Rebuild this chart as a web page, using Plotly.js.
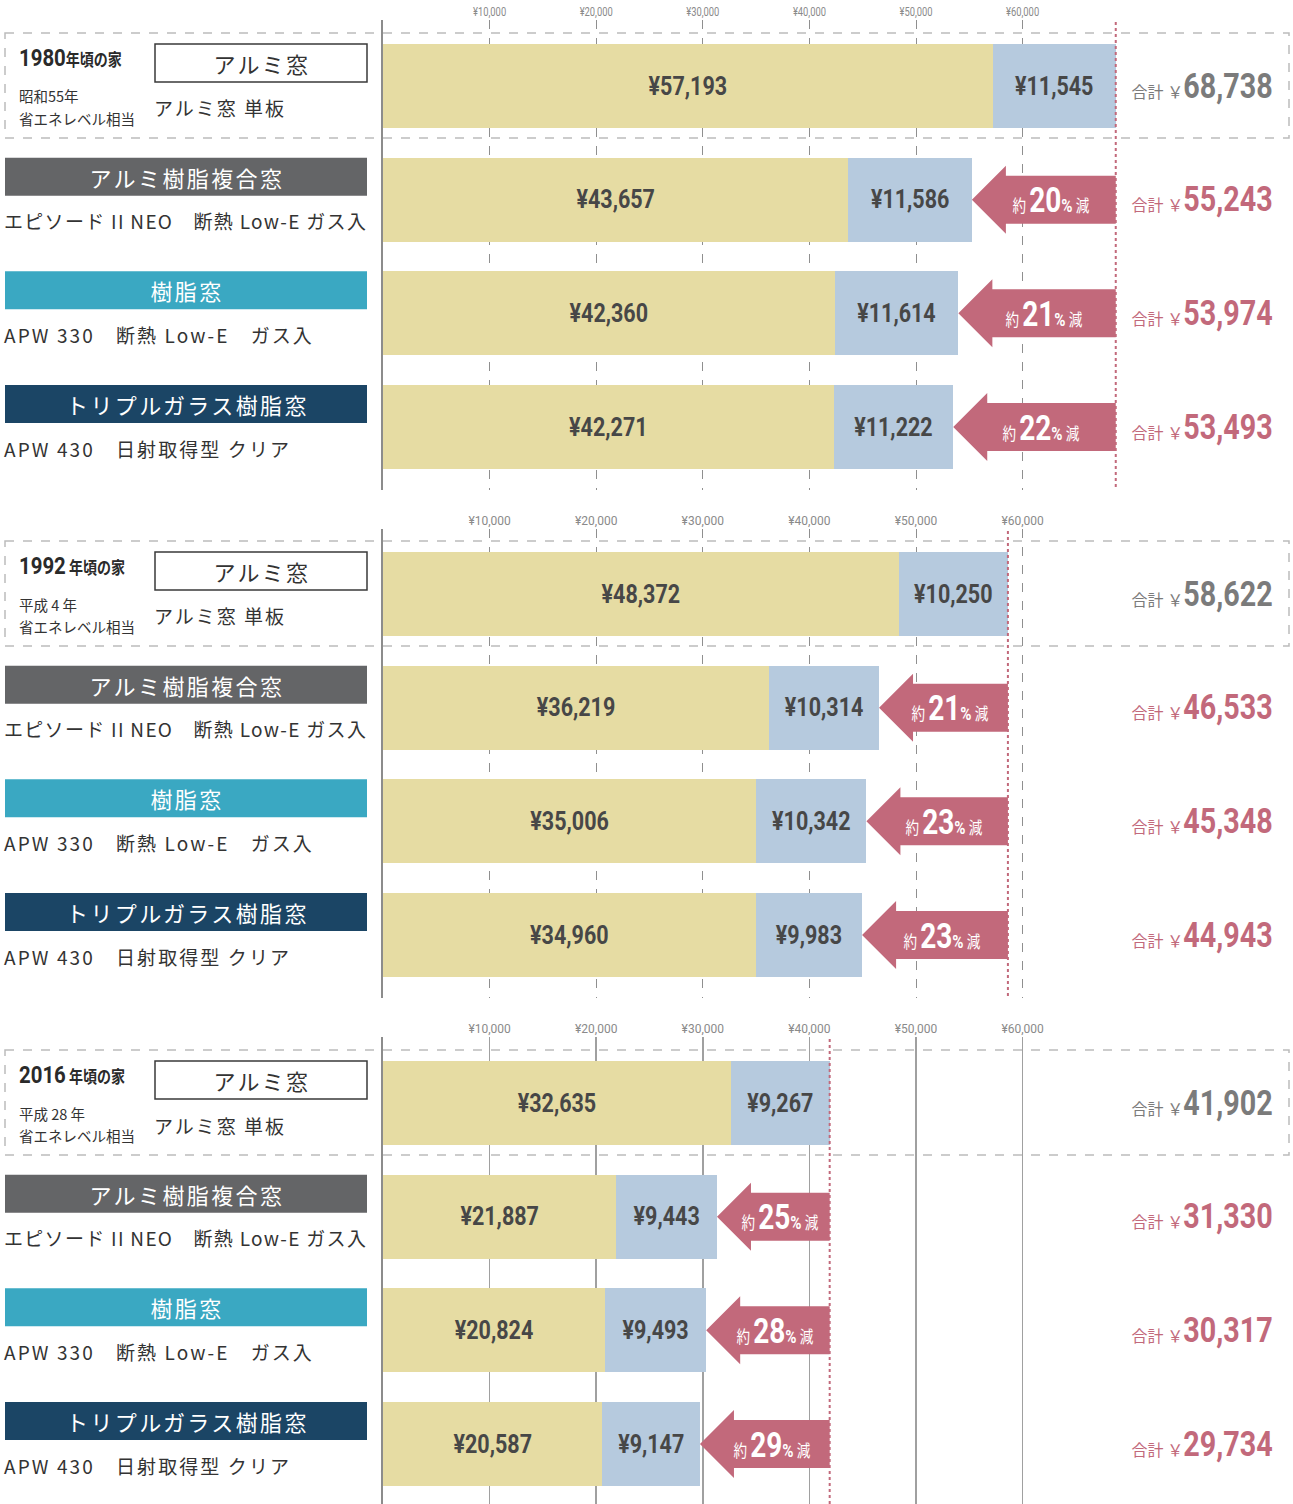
<!DOCTYPE html>
<html><head><meta charset="utf-8">
<script src="https://cdn.plot.ly/plotly-3.0.1.min.js"></script>
<style>html,body{margin:0;padding:0;background:#fff;}#chart{width:1293px;height:1504px;}</style>
</head><body><div id="chart"></div>
<script>
// ---------------- data ----------------
const years = ['1980', '1992', '2016'];
const eras = ['昭和55年', '平成 4 年', '平成 28 年'];
const windowTypes = ['アルミ窓', 'アルミ樹脂複合窓', '樹脂窓', 'トリプルガラス樹脂窓'];
const windowSpecs = ['アルミ窓 単板', 'エピソード II NEO　断熱 Low-E ガス入', 'APW 330　断熱 Low-E　ガス入', 'APW 430　日射取得型 クリア'];
const heating1980 = [57193, 43657, 42360, 42271];
const cooling1980 = [11545, 11586, 11614, 11222];
const heating1992 = [48372, 36219, 35006, 34960];
const cooling1992 = [10250, 10314, 10342, 9983];
const heating2016 = [32635, 21887, 20824, 20587];
const cooling2016 = [9267, 9443, 9493, 9147];
const reduction1980 = [20, 21, 22];
const reduction1992 = [21, 23, 23];
const reduction2016 = [25, 28, 29];
const tickValues = [10000, 20000, 30000, 40000, 50000, 60000];
const tickLabels = ['¥10,000', '¥20,000', '¥30,000', '¥40,000', '¥50,000', '¥60,000'];
const rowIndex = [0, 1, 2, 3];

// ---------------- layout constants ----------------
const W = 1293, H = 1504;
const X0 = 383;
const PXU = 106.6 / 10000;
const ROW = 113.67;
const BAR = 84;
const panelsPx = [
  {top: 20, bottom: 490, c0: 86},
  {top: 529, bottom: 998, c0: 594},
  {top: 1037, bottom: 1504, c0: 1103}
];
const specSpacing = [2.0, 1.3, 2.1, 2.1];
const heating = [heating1980, heating1992, heating2016];
const cooling = [cooling1980, cooling1992, cooling2016];
const reductions = [reduction1980, reduction1992, reduction2016];
const NUM = 'Roboto';
const CJK = 'Noto Sans CJK JP, sans-serif';
const boxColors = ['#ffffff', '#646567', '#3aa8c2', '#1b4565'];
const PINK = '#c2697b';
const BEIGE = '#e6dca3';
const BLUE = '#b6cade';
const TXT = '#333333';

const px = x => x / W;
const py = y => 1 - y / H;
const fmt = v => v.toLocaleString('en-US');

const data = [];
const layout = {
  width: W, height: H, margin: {l: 0, r: 0, t: 0, b: 0},
  paper_bgcolor: '#fff', plot_bgcolor: 'rgba(0,0,0,0)',
  showlegend: false, barmode: 'stack', hovermode: false,
  shapes: [], annotations: []
};
const annFx = [];
function addAnn(a, fx) { layout.annotations.push(a); annFx.push(fx || {}); }
const numSpan = (size, txt) => '<span style="font-family:' + NUM + ';font-size:' + size + 'px;font-weight:bold">' + txt + '</span>';

const xMax = (W - X0) / PXU;

panelsPx.forEach((p, k) => {
  const sfx = k === 0 ? '' : String(k + 1);
  const xa = 'x' + sfx, ya = 'y' + sfx;
  const yr = [(p.bottom - p.c0) / ROW, -(p.c0 - p.top) / ROW];
  layout['xaxis' + sfx] = {
    domain: [X0 / W, 1], range: [0, xMax], anchor: ya, side: 'top',
    tickvals: tickValues, ticktext: tickLabels, ticks: '',
    tickfont: {family: NUM, size: 12, color: '#8a8a8a'},
    showgrid: true, gridcolor: k === 2 ? '#a0a0a0' : '#8f8f8f',
    griddash: k === 2 ? 'solid' : 'dash', gridwidth: k === 2 ? 1.5 : 1,
    zeroline: false, showline: false, fixedrange: true, ticklabelstandoff: 1
  };
  layout['yaxis' + sfx] = {
    domain: [py(p.bottom), py(p.top)], range: yr, anchor: xa,
    showticklabels: false, showgrid: false, zeroline: false,
    showline: true, linecolor: '#8c8c8c', linewidth: 2, fixedrange: true
  };

  const common = {
    type: 'bar', orientation: 'h', y: rowIndex, xaxis: xa, yaxis: ya,
    width: BAR / ROW, hoverinfo: 'skip',
    texttemplate: '¥%{x:,}', textposition: 'inside', insidetextanchor: 'middle',
    constraintext: 'none', textangle: 0,
    textfont: {family: NUM, size: 25, color: '#474747', weight: 'bold'}
  };
  data.push(Object.assign({}, common, {x: heating[k], marker: {color: BEIGE, line: {width: 0}}}));
  data.push(Object.assign({}, common, {x: cooling[k], marker: {color: BLUE, line: {width: 0}}}));

  const totals = heating[k].map((v, i) => v + cooling[k][i]);
  const base = totals[0];

  layout.shapes.push({type: 'rect', xref: 'paper', yref: 'paper',
    x0: px(5), x1: px(1289), y0: py(p.c0 - 53), y1: py(p.c0 + 52),
    line: {color: '#bcbcbc', width: 1.5, dash: 'dash'}, fillcolor: 'rgba(0,0,0,0)', layer: 'above'});

  layout.shapes.push({type: 'line', xref: xa, yref: 'paper', x0: base, x1: base,
    y0: py(p.top + 2), y1: py(p.bottom), line: {color: PINK, width: 2, dash: 'dot'}, layer: 'above'});

  rowIndex.forEach(i => {
    const rp = p.c0 + i * ROW;
    if (i === 0) {
      layout.shapes.push({type: 'rect', xref: 'paper', yref: 'paper',
        x0: px(155), x1: px(367), y0: py(rp - 42), y1: py(rp - 4),
        line: {color: '#3a3a3a', width: 1.5}, fillcolor: '#fff', layer: 'above'});
      addAnn({xref: 'paper', yref: 'paper', x: px(262), y: py(rp - 23), xanchor: 'center', yanchor: 'middle', align: 'center',
        text: windowTypes[i], showarrow: false, font: {family: CJK, size: 22, color: TXT}}, {ls: 2.2});
      addAnn({xref: 'paper', yref: 'paper', x: px(152), y: py(rp + 22), xanchor: 'left', yanchor: 'middle', align: 'left',
        text: windowSpecs[i], showarrow: false, font: {family: CJK, size: 19, color: TXT}}, {ls: specSpacing[i]});
      addAnn({xref: 'paper', yref: 'paper', x: px(17), y: py(rp - 28), xanchor: 'left', yanchor: 'middle', align: 'left',
        text: numSpan(24, years[k]) +
              '<span style="font-size:16.5px;font-weight:bold">' + (k === 0 ? '' : ' ') + '年頃の家</span>',
        showarrow: false, font: {family: CJK, size: 16.5, color: '#2a2a2a'}}, {whole: 0.85});
      addAnn({xref: 'paper', yref: 'paper', x: px(17), y: py(rp + 10), xanchor: 'left', yanchor: 'middle', align: 'left',
        text: eras[k], showarrow: false, font: {family: CJK, size: 14.5, color: TXT}});
      addAnn({xref: 'paper', yref: 'paper', x: px(17), y: py(rp + 32), xanchor: 'left', yanchor: 'middle', align: 'left',
        text: '省エネレベル相当', showarrow: false, font: {family: CJK, size: 14.5, color: TXT}});
    } else {
      layout.shapes.push({type: 'rect', xref: 'paper', yref: 'paper',
        x0: px(5), x1: px(367), y0: py(rp - 42), y1: py(rp - 4),
        line: {width: 0}, fillcolor: boxColors[i], layer: 'above'});
      addAnn({xref: 'paper', yref: 'paper', x: px(187), y: py(rp - 23), xanchor: 'center', yanchor: 'middle', align: 'center',
        text: windowTypes[i], showarrow: false, font: {family: CJK, size: 22, color: '#ffffff'}}, {ls: 2.4});
      addAnn({xref: 'paper', yref: 'paper', x: px(2), y: py(rp + 21), xanchor: 'left', yanchor: 'middle', align: 'left',
        text: windowSpecs[i], showarrow: false, font: {family: CJK, size: 19, color: TXT}}, {ls: specSpacing[i]});

      const tip = totals[i];
      const hb = tip + 34 / PXU;
      const hh = 34 / ROW, bh = 24 / ROW;
      layout.shapes.push({type: 'path', xref: xa, yref: ya,
        path: `M ${tip},${i} L ${hb},${i - hh} L ${hb},${i - bh} L ${base},${i - bh} L ${base},${i + bh} L ${hb},${i + bh} L ${hb},${i + hh} Z`,
        fillcolor: PINK, line: {width: 0}, layer: 'above'});
      addAnn({xref: xa, yref: ya, x: (tip + base) / 2, y: i, xshift: 7, yshift: -1, xanchor: 'center', yanchor: 'middle', align: 'center',
        text: '<span style="font-size:17px">約 </span>' + numSpan(35, reductions[k][i - 1]) +
              '<span style="font-family:' + NUM + ';font-size:19px;font-weight:bold">%</span>' +
              '<span style="font-size:17px"> 減</span>',
        showarrow: false, font: {family: CJK, size: 17, color: '#ffffff'}}, {whole: 0.8});
    }
    addAnn({xref: 'paper', yref: ya, x: px(1275), y: i, xanchor: 'right', yanchor: 'middle', align: 'right',
      text: '<span style="font-size:16px">合計 ￥</span>' + numSpan(35, fmt(totals[i])),
      showarrow: false, font: {family: CJK, size: 16, color: i === 0 ? '#7b7b7b' : PINK}}, {num: 0.82});
  });
});

function squeeze(el, f) {
  const L = el.getComputedTextLength();
  if (L > 0) {
    el.setAttribute('textLength', (L * f).toFixed(2));
    el.setAttribute('lengthAdjust', 'spacingAndGlyphs');
  }
}
function squeezeWhole(t, f, align) {
  const b = t.getBBox();
  const ax = align === 'left' ? b.x : align === 'right' ? b.x + b.width : b.x + b.width / 2;
  const prev = t.getAttribute('transform') || '';
  t.setAttribute('transform', prev + ` translate(${ax},0) scale(${f},1) translate(${-ax},0)`);
}

Plotly.newPlot('chart', data, layout, {staticPlot: true, displayModeBar: false}).then(gd => {
  gd.querySelectorAll('.annotation').forEach(g => {
    const idx = +g.getAttribute('data-index');
    const fx = annFx[idx] || {};
    const align = layout.annotations[idx].align;
    g.querySelectorAll('text').forEach(t => {
      if (fx.ls) t.style.letterSpacing = fx.ls + 'px';
      if (fx.whole) squeezeWhole(t, fx.whole, align);
      if (fx.num) t.querySelectorAll('tspan').forEach(ts => {
        if ((ts.getAttribute('style') || '').indexOf(NUM) >= 0) squeeze(ts, fx.num);
      });
    });
  });
  gd.querySelectorAll('.bartext').forEach(t => squeeze(t, 0.86));
  gd.querySelectorAll('.xtick text').forEach(t => squeeze(t, 0.78));
});
</script>
</body></html>
